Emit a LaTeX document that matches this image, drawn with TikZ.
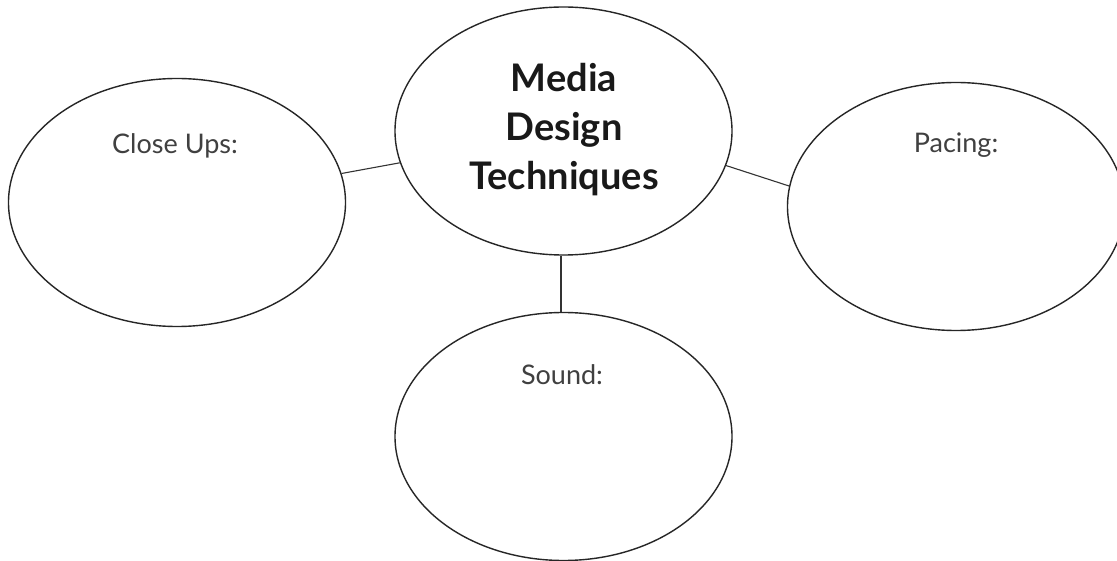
\documentclass[tikz,border=0pt]{standalone}
\usepackage{fontspec}
\setmainfont{Lato}
\usetikzlibrary{shapes.geometric}
\begin{document}
\begin{tikzpicture}[x=1pt,y=-1pt,
  bubble/.style={ellipse,draw=black!85,line width=1.4pt,minimum width=337pt,minimum height=248pt,inner sep=0pt},
  link/.style={draw=black!80,line width=1.1pt},
  heading/.style={align=center,font=\fontsize{38}{49}\selectfont\bfseries,text=black!90},
  caption/.style={font=\fontsize{27}{30}\selectfont,text=black!75}]
  \clip (0,0) rectangle (1117,561);
  \fill[white] (0,0) rectangle (1117,561);
  % the four bubbles
  \node[bubble] (core)  at (563.5,131) {};
  \node[bubble] (close) at (177,202.5) {};
  \node[bubble] (pace)  at (956,206.5) {};
  \node[bubble] (sound) at (563.5,436.5) {};
  % texts
  \node[heading] (title) at (564,130) {Media\\Design\\Techniques};
  \node[caption] (tclose) at (175,146) {Close Ups:};
  \node[caption] (tpace)  at (956,145) {Pacing:};
  \node[caption] (tsound) at (562,375) {Sound:};
  % connectors
  \draw[link] (close.10.6) -- (core.191);
  \draw[link] (core.-12) -- (pace.173.4);
  \draw[link] ([xshift=-2.5pt]core.south) -- ([xshift=-2.5pt]sound.north);
\end{tikzpicture}
\end{document}
